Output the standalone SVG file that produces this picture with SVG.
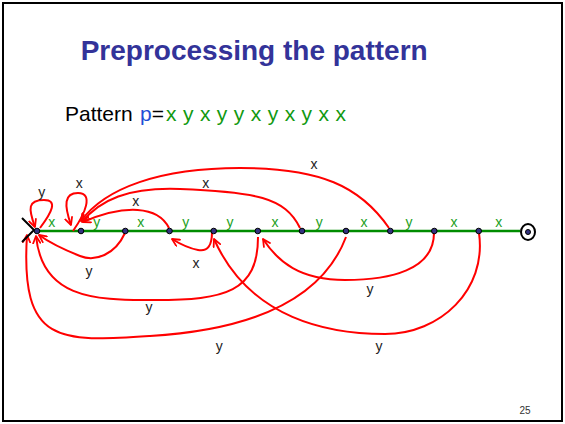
<svg xmlns="http://www.w3.org/2000/svg" width="565" height="424" viewBox="0 0 565 424">
<defs>
<marker id="ah" viewBox="0 0 10 10" refX="9" refY="5" markerWidth="9" markerHeight="9" markerUnits="userSpaceOnUse" orient="auto">
<path d="M1,1 L9,5 L1,9" fill="none" stroke="#ff0000" stroke-width="2" stroke-linecap="round" stroke-linejoin="round"/>
</marker>
</defs>
<style>
.arc{fill:none;stroke:#ff0000;stroke-width:2;marker-end:url(#ah)}
.lbl{font-family:"Liberation Sans",Arial,sans-serif;font-size:14px;fill:#222;text-anchor:middle}
.glbl{font-family:"Liberation Sans",Arial,sans-serif;font-size:14px;fill:#22a022;text-anchor:middle}
.node{fill:#333380;stroke:#000;stroke-width:1}
</style>
<rect x="3" y="3" width="559" height="418" fill="#fff" stroke="#000" stroke-width="2"/>
<text x="80.7" y="60" font-family="'Liberation Sans',Arial,sans-serif" font-size="28" font-weight="bold" fill="#333399">Preprocessing the pattern</text>
<text y="121" font-family="'Liberation Sans',Arial,sans-serif" font-size="21"><tspan x="65" fill="#000">Pattern </tspan><tspan x="140" fill="#1f4fd6">p</tspan><tspan fill="#000">=</tspan><tspan x="166" fill="#119911" textLength="180" lengthAdjust="spacing">x y x y y x y x y x x</tspan></text>

<g id="spine">
<line x1="37" y1="231" x2="520" y2="231" stroke="#008c00" stroke-width="2.5"/>
<text class="glbl" x="51.7" y="227">x</text>
<text class="glbl" x="96.7" y="227">y</text>
<text class="glbl" x="140.7" y="227">x</text>
<text class="glbl" x="185.7" y="227">y</text>
<text class="glbl" x="230" y="227">y</text>
<text class="glbl" x="275" y="227">x</text>
<text class="glbl" x="319.3" y="227">y</text>
<text class="glbl" x="364" y="227">x</text>
<text class="glbl" x="409" y="227">y</text>
<text class="glbl" x="454" y="227">x</text>
<text class="glbl" x="498.7" y="227">x</text>
</g>

<g id="connectors">
<path class="arc" d="M40 228 C52 212 58 200 44 200 C28 200 28 208 35 227"/>
<text class="lbl" x="41.7" y="197">y</text>
<path class="arc" d="M73 231 C85 214 94 193 78 193 C64 193 64 205 71 225"/>
<text class="lbl" x="79.3" y="188">x</text>
<path class="arc" d="M169 228 C158 206 125 204 83 222"/>
<text class="lbl" x="135.7" y="206">x</text>
<path class="arc" d="M300 228 C285 197 255 192 180 189 C128 187 100 200 82 222"/>
<text class="lbl" x="205.7" y="187.5">x</text>
<path class="arc" d="M389 228 C360 186 320 168 240 168 C160 168 105 188 81 221"/>
<text class="lbl" x="314" y="169">x</text>
<path class="arc" d="M125 233 C115 255 95 262 80 256 C65 250 50 243 39 235"/>
<text class="lbl" x="89" y="275.5">y</text>
<path class="arc" d="M212 232 C212 245 208 252 198 250 C188 248 180 244 172 239"/>
<text class="lbl" x="196" y="267.5">x</text>
<path class="arc" d="M258 237 C258 292 225 300 155 300 C90 301 42 296 36 236"/>
<text class="lbl" x="149" y="312">y</text>
<path class="arc" d="M346 237 C322 300 250 330 150 336 C60 342 20 345 27 235"/>
<text class="lbl" x="219.3" y="350.5">y</text>
<path class="arc" d="M434 233 C434 270 390 280 345 280 C300 280 278 262 263 239"/>
<text class="lbl" x="370" y="294">y</text>
<path class="arc" d="M479 233 C487 290 440 334 385 334 C330 334 250 320 214 239"/>
<text class="lbl" x="379" y="350.5">y</text>
</g>

<g id="start"><path d="M22 218 L34 230 L22 242" fill="none" stroke="#000" stroke-width="2"/></g>

<g id="q0"><circle class="node" cx="37" cy="231" r="2.8"/></g>
<g id="q1"><circle class="node" cx="81" cy="231" r="2.8"/></g>
<g id="q2"><circle class="node" cx="125.3" cy="231" r="2.8"/></g>
<g id="q3"><circle class="node" cx="169.5" cy="231" r="2.8"/></g>
<g id="q4"><circle class="node" cx="213.7" cy="231" r="2.8"/></g>
<g id="q5"><circle class="node" cx="257.8" cy="231" r="2.8"/></g>
<g id="q6"><circle class="node" cx="302" cy="231" r="2.8"/></g>
<g id="q7"><circle class="node" cx="346" cy="231" r="2.8"/></g>
<g id="q8"><circle class="node" cx="390.3" cy="231" r="2.8"/></g>
<g id="q9"><circle class="node" cx="434.3" cy="231" r="2.8"/></g>
<g id="q10"><circle class="node" cx="478.7" cy="231" r="2.8"/></g>
<g id="q11"><ellipse cx="528" cy="232" rx="7" ry="8" fill="#fff" stroke="#000" stroke-width="2"/><circle class="node" cx="528" cy="232" r="2.5"/></g>

<text x="525" y="414" font-family="'Liberation Sans',Arial,sans-serif" font-size="10" fill="#333" text-anchor="middle">25</text>
</svg>
